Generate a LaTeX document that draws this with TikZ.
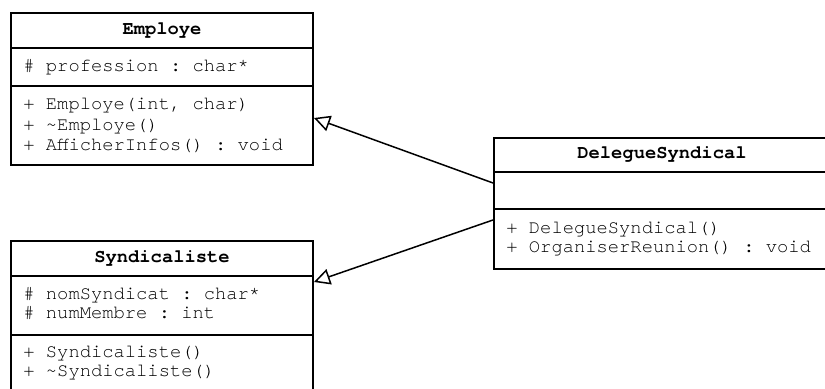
\documentclass[tikz,border=0pt]{standalone}
\usepackage{fontspec}
\setmonofont{texgyrecursor-regular.otf}[BoldFont=texgyrecursor-bold.otf]
\usetikzlibrary{arrows.meta,calc}

\tikzset{
  x=0.5pt, y=-0.5pt,
  classbox/.style={draw, line width=1pt, inner sep=0pt, anchor=north west},
  sepline/.style={line width=1pt},
  classname/.style={font=\ttfamily\bfseries\fontsize{9.4pt}{9.75pt}\selectfont, inner sep=0pt, anchor=base},
  member/.style={font=\ttfamily\fontsize{9.4pt}{9.75pt}\selectfont, inner sep=0pt, anchor=base west},
  inherit/.style={line width=0.75pt, -{Triangle[open, length=8pt, width=8pt]}}
}

\begin{document}
\begin{tikzpicture}
\useasboundingbox (0,0) rectangle (825,389);
\clip (0,0) rectangle (825,389);

% ---- class Employe ----
\node[classbox, minimum width=151pt, minimum height=76pt] (emp) at (10,12) {};
\draw[sepline] ($(emp.north west)+(0,36)$) -- ($(emp.north east)+(0,36)$);
\draw[sepline] ($(emp.north west)+(0,74)$) -- ($(emp.north east)+(0,74)$);
\node[classname] (emp-name) at ($(emp.north)+(0,23)$) {Employe};
\node[member] (emp-a1) at ($(emp.north west)+(13,60)$) {\# profession : char*};
\node[member] (emp-m1) at ($(emp.north west)+(13,98)$) {+ Employe(int, char)};
\node[member] (emp-m2) at ($(emp.north west)+(13,118.5)$) {+ \string~Employe()};
\node[member] (emp-m3) at ($(emp.north west)+(13,139)$) {+ AfficherInfos() : void};

% ---- class Syndicaliste ----
\node[classbox, minimum width=151pt, minimum height=77pt] (synd) at (10,240) {};
\draw[sepline] ($(synd.north west)+(0,36)$) -- ($(synd.north east)+(0,36)$);
\draw[sepline] ($(synd.north west)+(0,95)$) -- ($(synd.north east)+(0,95)$);
\node[classname] (synd-name) at ($(synd.north)+(0,23)$) {Syndicaliste};
\node[member] (synd-a1) at ($(synd.north west)+(13,60)$) {\# nomSyndicat : char*};
\node[member] (synd-a2) at ($(synd.north west)+(13,79)$) {\# numMembre : int};
\node[member] (synd-m1) at ($(synd.north west)+(13,118)$) {+ Syndicaliste()};
\node[member] (synd-m2) at ($(synd.north west)+(13,137)$) {+ \string~Syndicaliste()};

% ---- class DelegueSyndical ----
\node[classbox, minimum width=168pt, minimum height=65.5pt] (dele) at (493,137) {};
\draw[sepline] ($(dele.north west)+(0,35)$) -- ($(dele.north east)+(0,35)$);
\draw[sepline] ($(dele.north west)+(0,72)$) -- ($(dele.north east)+(0,72)$);
\node[classname] (dele-name) at ($(dele.north)+(0,22)$) {DelegueSyndical};
\node[member] (dele-m1) at ($(dele.north west)+(13,97)$) {+ DelegueSyndical()};
\node[member] (dele-m2) at ($(dele.north west)+(13,116)$) {+ OrganiserReunion() : void};

% ---- generalisations ----
\draw[inherit] ($(dele.north west)+(0,46)$) -- ($(emp.north east)+(0,106)$);
\draw[inherit] ($(dele.north west)+(0,83)$) -- ($(synd.north east)+(0,42)$);
\end{tikzpicture}
\end{document}
